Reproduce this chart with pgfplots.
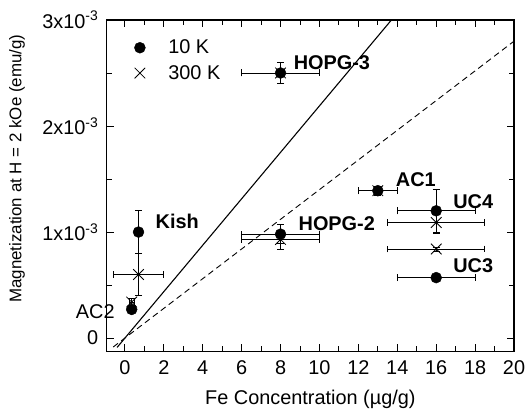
\documentclass[border=0pt]{standalone}
\usepackage{pgfplots}
\pgfplotsset{compat=1.18}
\usepackage{fontspec}
\setmainfont{Liberation Sans}
\pgfplotstableread{
x y ex ey
0.35 0.27 0.12 0.03
0.7 1.0 0 0.2
8 2.5 2 0.1
8 0.98 2 0.09
13 1.39 1 0.04
16 1.2 2 0.2
16 0.57 2 0.02
}\tenK
\pgfplotstableread{
x y ex ey
0.35 0.34 0.12 0.03
0.7 0.6 1.3 0.2
8 2.5 2 0.1
8 0.93 2 0.09
13 1.39 1 0.04
16 1.09 2.5 0.1
16 0.84 2.5 0.02
}\threeK
\begin{document}
\begin{tikzpicture}[font=\fontsize{20}{24}\selectfont]
\useasboundingbox (-107bp,-65bp) rectangle (419bp,352bp);
\begin{axis}[
  at={(0,0)}, anchor=south west,
  scale only axis, width=408bp, height=332bp,
  xmin=-0.93, xmax=20, ymin=-0.125, ymax=3,
  xtick={0,2,...,20}, minor x tick num=1,
  ytick={0,1,2,3}, minor ytick={0.5,1.5,2.5},
  yticklabels={0,{1x10\textsuperscript{-3}},{2x10\textsuperscript{-3}},{3x10\textsuperscript{-3}}},
  /pgf/number format/assume math mode=true,
  tick pos=both,
  tick align=inside,
  major tick length=7bp, minor tick length=5bp,
  every tick/.style={draw=black, line width=0.9pt},
  axis line style={line width=1.1pt},
  ticklabel style={font=\fontsize{20}{24}\selectfont},
  xticklabel style={yshift=-6bp},
  yticklabel style={xshift=-5bp},
  every axis x label/.style={at={(axis description cs:0.5,-0.1446)}, anchor=center, font=\fontsize{20}{24}\selectfont},
  every axis y label/.style={at={(axis description cs:-0.2206,0.551)}, anchor=center, rotate=90, font=\fontsize{17}{20}\selectfont},
  xlabel={Fe Concentration (µg/g)},
  ylabel={Magnetization at H = 2 kOe (emu/g)},
  legend style={at={(0.06,0.952)}, anchor=north west, draw=none, fill=none, row sep=6bp, font=\fontsize{20}{24}\selectfont},
  legend cell align=left,
  clip=false,
]
\addplot[black, line width=1.1pt, forget plot] coordinates {(-0.4,-0.088) (13.7,3.0)};
\addplot[black, line width=0.9pt, dash pattern=on 6bp off 4bp, forget plot] coordinates {(-0.6,-0.084) (20,2.80)};
\addplot[only marks, mark=*, mark size=5.5bp, black,
  error bars/.cd, x dir=both, x explicit, y dir=both, y explicit,
  error bar style={line width=0.7pt},
  error mark options={rotate=90, mark size=3.5bp, line width=0.7pt}]
  table[x=x, y=y, x error=ex, y error=ey] {\tenK};
\addlegendentry{\hspace{21bp}10 K}
\addplot[only marks, mark=x, mark size=7.5bp, black, mark options={line width=0.8pt},
  error bars/.cd, x dir=both, x explicit, y dir=both, y explicit,
  error bar style={line width=0.7pt},
  error mark options={rotate=90, mark size=3.5bp, line width=0.7pt}]
  table[x=x, y=y, x error=ex, y error=ey] {\threeK};
\addlegendentry{\hspace{21bp}300 K}
\node[anchor=west, font=\fontsize{20}{24}\selectfont\bfseries] at (axis cs:8.5,2.6) {HOPG-3};
\node[anchor=west, font=\fontsize{20}{24}\selectfont\bfseries] at (axis cs:1.4,1.1) {Kish};
\node[anchor=east, font=\fontsize{20}{24}\selectfont] at (axis cs:-0.35,0.245) {AC2};
\node[anchor=west, font=\fontsize{20}{24}\selectfont\bfseries] at (axis cs:8.75,1.08) {HOPG-2};
\node[anchor=west, font=\fontsize{20}{24}\selectfont\bfseries] at (axis cs:13.75,1.49) {AC1};
\node[anchor=west, font=\fontsize{20}{24}\selectfont\bfseries] at (axis cs:16.7,1.29) {UC4};
\node[anchor=west, font=\fontsize{20}{24}\selectfont\bfseries] at (axis cs:16.7,0.68) {UC3};
\end{axis}
\end{tikzpicture}
\end{document}
